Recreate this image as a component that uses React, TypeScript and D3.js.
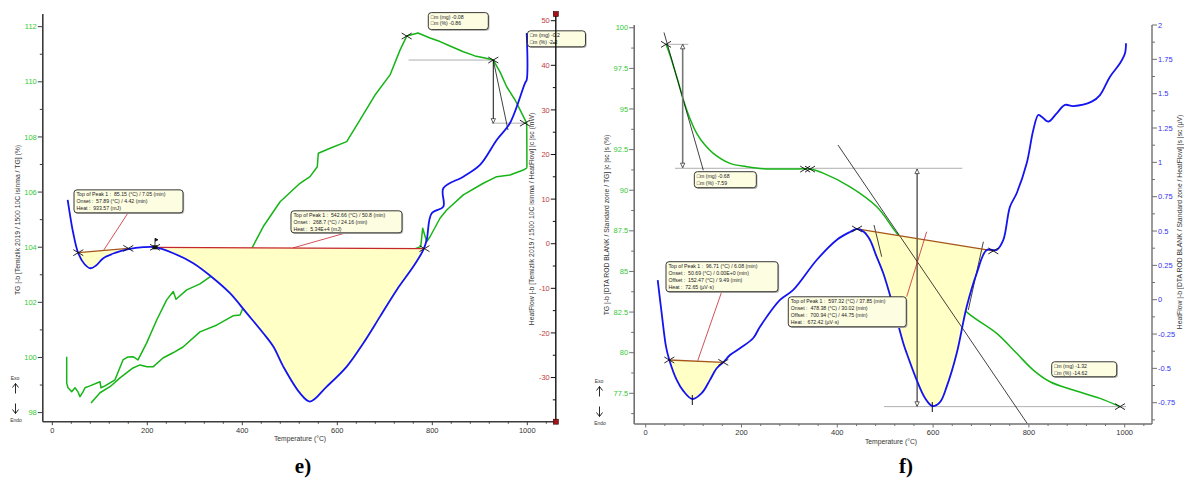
import React, { useEffect, useRef } from 'react';
import * as d3 from 'd3';

type Pt = [number, number];

// temperature axis
const tempTicks = [0, 200, 400, 600, 800, 1000];

// ---------- panel e) Temizlik 2019 ----------
const eTgTicks = [98, 100, 102, 104, 106, 108, 110, 112];
const eHfTicks = [-30, -20, -10, 0, 10, 20, 30, 40, 50];

// TG (%) heating branch
const eTgHeating: Pt[] = [
  [30.3, 100.03], [30.3, 99.07], [33.1, 98.9], [40.8, 98.76], [47.8, 98.9], [54.1, 98.75],
  [58.3, 98.58], [64.6, 98.75], [68.8, 98.9], [79.4, 98.97], [100.4, 99.12], [102.5, 98.9],
  [110.9, 98.97], [132, 99.19], [148.8, 99.91], [159.4, 100.02], [169.9, 100.03], [180.4, 99.91],
  [198.7, 100.53], [219.8, 101.36], [240.8, 102.09], [254.7, 102.39], [260.4, 102.11], [283, 102.45],
  [310.9, 102.67], [332, 102.92], [374.1, 103.43], [420.4, 103.97], [444.2, 104.75], [479.6, 105.65],
  [521.5, 106.32], [542.5, 106.56], [557.9, 106.92], [560, 107.41], [584.8, 107.59], [619.8, 107.83],
  [647.8, 108.62], [679.4, 109.52], [711, 110.25], [732, 111.15], [746.1, 111.66], [769.9, 111.77],
  [795.2, 111.59], [816.2, 111.46], [837.3, 111.3], [865.3, 111.09], [889.9, 110.94], [911, 110.86],
  [928.4, 110.79], [942.5, 110.36], [956.6, 109.82], [974.3, 109.34], [984.8, 108.98], [998.7, 108.5],
  [999, 107.89], [999.2, 106.88]
];
// TG (%) cooling branch
const eTgCooling: Pt[] = [
  [999.2, 106.88], [991.6, 106.8], [963.6, 106.62], [935.6, 106.56], [907.4, 106.32], [865.3, 105.9],
  [830.3, 105.35], [816.2, 105.05], [795.2, 104.38], [788.2, 104.2], [779.8, 104.69], [775.6, 104.02],
  [689.9, 103.47], [605.7, 102.96], [521.5, 102.45], [458.3, 102.09], [401.5, 101.8], [395.2, 101.54],
  [380.4, 101.51], [346.7, 101.18], [310.9, 100.93], [275.2, 100.38], [254.1, 100.17], [233.1, 99.98],
  [212, 99.66], [199.4, 99.66], [184.6, 99.73], [169.9, 99.62], [142.5, 99.26], [121.5, 98.94],
  [100.4, 98.72], [81.5, 98.35]
];
// HeatFlow (mW)
const eHeatFlow: Pt[] = [
  [32.4, 9.82], [37.3, 6.45], [43.6, 2.64], [54.7, -2.13], [68, -4.6], [80, -5.5], [92, -4.9],
  [107.4, -3.25], [132, -2.06], [160, -1.23], [191.6, -0.78], [216.2, -0.78], [254.7, -2.13],
  [296.8, -4.37], [338.9, -7.73], [374.1, -11.09], [409.3, -15.57], [444.2, -20.06], [465.3, -23.06],
  [486.3, -27.54], [521.5, -33.51], [542.5, -35.39], [577.7, -32.02], [619.8, -27.54], [654.7, -22.3],
  [689.9, -16.34], [725.1, -10.35], [760, -5.13], [781.1, -1.39], [788.2, 0.85], [798.7, 6.83],
  [823.2, 8.31], [823.2, 12.44], [865.3, 15.04], [900.4, 17.66], [935.6, 23.26], [963.6, 27.07],
  [995.2, 36.03], [998.7, 36.71], [998.7, 47.24]
];
const ePeak1Base: Pt[] = [[54.7, -2.0], [160, -1.05]];
const ePeak2Base: Pt[] = [[216.2, -0.8], [783.5, -1.1]];

// ---------- panel f) DTA ROD BLANK ----------
const fTgTicks = [77.5, 80, 82.5, 85, 87.5, 90, 92.5, 95, 97.5, 100];
const fHfTicks = [-0.75, -0.5, -0.25, 0, 0.25, 0.5, 0.75, 1, 1.25, 1.5, 1.75, 2];

const fTg: Pt[] = [
  [42.4, 98.98], [50.7, 98.32], [64.7, 96.98], [85.6, 94.94], [106.5, 93.5], [123.8, 92.78],
  [141.1, 92.27], [176, 91.65], [210.9, 91.45], [245.5, 91.32], [301.3, 91.3], [343, 91.3],
  [371.7, 91.04], [426.7, 90.21], [482.5, 88.98], [524.2, 87.35], [572.9, 85.7], [625.1, 83.86],
  [673.5, 82.42], [732.8, 81.19], [774.5, 79.96], [809.2, 78.93], [844.1, 78.21], [892.7, 77.7],
  [948.4, 77.19], [990.2, 76.68]
];
// HeatFlow (µV)
const fHeatFlow: Pt[] = [
  [25.1, 0.143], [33.4, -0.099], [42.4, -0.342], [49.3, -0.439], [64.7, -0.584], [78.5, -0.664],
  [97.3, -0.723], [116.9, -0.681], [134.2, -0.584], [148.2, -0.499], [162, -0.456], [176, -0.403],
  [196.9, -0.354], [224.6, -0.279], [238.6, -0.197], [280.4, -0.002], [308.1, 0.071], [357, 0.289],
  [398.7, 0.435], [426.5, 0.493], [441.1, 0.515], [455.8, 0.493], [468.3, 0.435], [480.8, 0.325],
  [496, 0.192], [516.9, -0.051], [537.8, -0.317], [544.9, -0.39], [565.8, -0.585], [583.1, -0.716],
  [598.3, -0.774], [614.4, -0.745], [628.4, -0.633], [649.3, -0.39], [670.1, -0.051], [691, 0.192],
  [711.9, 0.362], [732.8, 0.362], [746.6, 0.435], [760.5, 0.677], [774.5, 0.775], [795.4, 0.993],
  [809.2, 1.236], [819.6, 1.345], [826.7, 1.332], [840.5, 1.296], [858, 1.357], [875.4, 1.418],
  [892.7, 1.41], [931.1, 1.442], [948.4, 1.49], [969.3, 1.624], [990.2, 1.721], [1000.6, 1.794],
  [1002.7, 1.867]
];
const fPeak1Base: Pt[] = [[49.3, -0.439], [162, -0.456]];
const fPeak2Base: Pt[] = [[441.1, 0.515], [725.7, 0.355]];

const FONT = '"Liberation Sans", Arial, Helvetica, sans-serif';
const GREEN = '#16b416';
const BLUE = '#1414f0';
const FILL = '#ffffc6';
const RED = '#c4262e';
const BROWN = '#a5561c';

function interpAt(pts: Pt[], t: number) {
  for (let i = 0; i < pts.length - 1; i++) {
    const [t0, v0] = pts[i];
    const [t1, v1] = pts[i + 1];
    if (t >= t0 && t <= t1 && t1 !== t0) return v0 + ((v1 - v0) * (t - t0)) / (t1 - t0);
  }
  return pts[pts.length - 1][1];
}

// curve points between the two baseline ends, from right to left
function peakEdge(curve: Pt[], base: Pt[]): Pt[] {
  const [[a], [b]] = base;
  const inner = curve.filter(d => d[0] > a && d[0] < b).reverse();
  return [[b, interpAt(curve, b)], ...inner, [a, interpAt(curve, a)]];
}

const panelE = {
  xDomain: [-20, 1060], xRange: [42.8, 555.8], yTop: 14, yBottom: 421.7,
  tgDomain: [97.67, 112.46], hfDomain: [-39.9, 51.5],
  tgTicks: eTgTicks, tgMinor: 1, hfTicks: eHfTicks, hfMinor: 5,
  hfColor: '#c33a3a', hfInside: true, axisColor: '#3c3c3c', rightColor: '#111', redEnds: true,
  tgTitle: 'TG |-b [Temizlik 2019 / 1500 10C isinma / TG] (%)', tgTitleX: 18, tgTitleY: 220,
  hfTitle: 'HeatFlow |-b [Temizlik 2019 / 1500 10C isinma / HeatFlow] |c |sc (mW)', hfTitleX: 532, hfTitleY: 219,
  xTitleX: 300, exoX: 15, exoY: 379.5, smoothTg: false,
  tgCurves: [eTgHeating, eTgCooling], hfCurve: eHeatFlow,
  peaks: [{ base: ePeak1Base, color: BROWN }, { base: ePeak2Base, color: RED }],
  greyLines: [[[750, 110.79], [928.4, 110.79]], [[925, 108.5], [999, 108.5]]] as Pt[][],
  tgTangents: [[[928.4, 110.79], [959.4, 108.25]]] as Pt[][],
  hfTangents: [] as Pt[][],
  arrows: [{ t: 928.4, from: 110.79, to: 108.5, color: '#111', top: false }],
  tgMarks: [[746.1, 111.66], [928.4, 110.79], [995, 108.5]] as Pt[],
  hfMarks: [[54.7, -2.0], [160, -1.05], [216.2, -0.8], [783.5, -1.1]] as Pt[],
  peakTicks: [] as Pt[],
  flag: [216.2, -0.8] as Pt,
  leaders: [[[159.4, 6.9], [108.6, -1.39]], [[616.2, 2.37], [506.7, -0.94]]] as Pt[][],
  boxes: [
    { t: 45.7, v: 106.08, w: 109, h: 23, lines: ['Top of Peak 1 :  85.15 (°C) / 7.05 (min)', 'Onset :  57.89 (°C) / 4.42 (min)', 'Heat :  933.57 (mJ)'] },
    { t: 502.5, v: 105.32, w: 111, h: 22, lines: ['Top of Peak 1 :  542.66 (°C) / 50.8 (min)', 'Onset :  268.7 (°C) / 24.16 (min)', 'Heat :  5.34E+4 (mJ)'] },
    { t: 791.6, v: 112.51, w: 60, h: 17, lines: ['\u25A1m (mg) -0.08', '\u25A1m (%) -0.86'] },
    { t: 1000.4, v: 111.85, w: 58, h: 16, lines: ['\u25A1m (mg) -0.2', '\u25A1m (%) -2.3'] }
  ]
};

const panelF = {
  xDomain: [-24, 1057], xRange: [634.2, 1152], yTop: 25, yBottom: 424,
  tgDomain: [75.61, 100.17], hfDomain: [-0.905, 2.0],
  tgTicks: fTgTicks, tgMinor: 1.25, hfTicks: fHfTicks, hfMinor: 0.125,
  hfColor: '#3434f4', hfInside: false, axisColor: '#707070', rightColor: '#707070', redEnds: false,
  tgTitle: 'TG |-b [DTA ROD BLANK / Standard zone / TG] |c |sc |s (%)', tgTitleX: 607, tgTitleY: 225,
  hfTitle: 'HeatFlow |-b [DTA ROD BLANK / Standard zone / HeatFlow] |s |sc (µV)', hfTitleX: 1180, hfTitleY: 222,
  xTitleX: 891, exoX: 599, exoY: 382.5, smoothTg: true,
  tgCurves: [fTg], hfCurve: fHeatFlow,
  peaks: [{ base: fPeak1Base, color: BROWN }, { base: fPeak2Base, color: BROWN }],
  greyLines: [[[46.6, 98.98], [88.9, 98.98]], [[61.2, 91.35], [661, 91.35]], [[497.3, 76.68], [1002.7, 76.68]]] as Pt[][],
  tgTangents: [[[38.2, 99.71], [120.3, 91.23]], [[401.5, 92.78], [797, 75.62]]] as Pt[][],
  hfTangents: [[[476.6, 0.544], [492.7, 0.313]], [[705, 0.422], [673.5, -0.075]]] as Pt[][],
  arrows: [
    { t: 77.2, from: 98.98, to: 91.39, color: '#777', top: true },
    { t: 566.6, from: 91.3, to: 76.7, color: '#111', top: true }
  ],
  tgMarks: [[42.4, 98.98], [333, 91.3], [343, 91.3], [990.2, 76.68]] as Pt[],
  hfMarks: [[49.3, -0.439], [162, -0.456], [441.1, 0.515], [725.7, 0.355]] as Pt[],
  peakTicks: [[97.3, -0.723], [598.3, -0.774]] as Pt[],
  flag: null,
  leaders: [[[158.7, 0.058], [108.6, -0.444]], [[544.9, 0.022], [586.6, 0.495]]] as Pt[][],
  boxes: [
    { t: 42.4, v: 85.6, w: 112, h: 30, lines: ['Top of Peak 1 :  96.71 (°C) / 6.08 (min)', 'Onset :  50.69 (°C) / 0.00E+0 (min)', 'Offset :  152.47 (°C) / 9.49 (min)', 'Heat :  72.65 (µV·s)'] },
    { t: 297.7, v: 83.44, w: 118, h: 30, lines: ['Top of Peak 1 :  597.32 (°C) / 37.85 (min)', 'Onset :  478.38 (°C) / 30.02 (min)', 'Offset :  700.94 (°C) / 44.75 (min)', 'Heat :  672.42 (µV·s)'] },
    { t: 101.5, v: 91.14, w: 62, h: 16, lines: ['\u25A1m (mg) -0.68', '\u25A1m (%) -7.59'] },
    { t: 847.6, v: 79.44, w: 65, h: 15, lines: ['\u25A1m (mg) -1.32', '\u25A1m (%) -14.62'] }
  ]
};

function minorTicks(domain: number[], step: number, majors: number[]) {
  const start = Math.ceil(domain[0] / step) * step;
  return d3.range(start, domain[1] + 1e-9, step).filter(v => !majors.some(m => Math.abs(m - v) < 1e-6));
}

function drawPanel(svg: any, p: any) {
  const g = svg.append('g');
  const x = d3.scaleLinear().domain(p.xDomain).range(p.xRange);
  const tg = d3.scaleLinear().domain(p.tgDomain).range([p.yBottom, p.yTop]);
  const hf = d3.scaleLinear().domain(p.hfDomain).range([p.yBottom, p.yTop]);
  const xl = p.xRange[0];
  const xr = p.xRange[1];
  const tgLine = d3.line<Pt>().x(d => x(d[0])).y(d => tg(d[1]));
  const hfLine = d3.line<Pt>().x(d => x(d[0])).y(d => hf(d[1]));
  const smooth = d3.curveCatmullRom.alpha(0.5);
  const tgCurve = d3.line<Pt>().x(d => x(d[0])).y(d => tg(d[1])).curve(p.smoothTg ? smooth : d3.curveLinear);
  const hfCurve = d3.line<Pt>().x(d => x(d[0])).y(d => hf(d[1])).curve(smooth);

  // guide lines
  p.greyLines.forEach((l: Pt[]) =>
    g.append('path').attr('d', tgLine(l)).attr('stroke', '#9a9a9a').attr('stroke-width', 0.8).attr('fill', 'none'));

  // TG curves
  p.tgCurves.forEach((c: Pt[]) =>
    g.append('path').attr('d', tgCurve(c)).attr('fill', 'none').attr('stroke', GREEN)
      .attr('stroke-width', 1.5).attr('stroke-linejoin', 'round'));

  // peak integration areas (painted over the TG curve like the instrument software)
  p.peaks.forEach((pk: any) => {
    const edge = hfCurve(peakEdge(p.hfCurve, pk.base)) as string;
    const d = hfLine(pk.base) + 'L' + edge.slice(1) + 'Z';
    g.append('path').attr('d', d).attr('fill', FILL).attr('stroke', 'none');
  });

  // tangents
  p.tgTangents.forEach((l: Pt[]) =>
    g.append('path').attr('d', tgLine(l)).attr('stroke', '#111').attr('stroke-width', 0.8).attr('fill', 'none'));
  p.hfTangents.forEach((l: Pt[]) =>
    g.append('path').attr('d', hfLine(l)).attr('stroke', '#111').attr('stroke-width', 0.8).attr('fill', 'none'));

  // arrows
  p.arrows.forEach((a: any) => {
    const ax = x(a.t);
    const y1 = tg(a.from);
    const y2 = tg(a.to);
    g.append('line').attr('x1', ax).attr('x2', ax).attr('y1', y1).attr('y2', y2)
      .attr('stroke', a.color).attr('stroke-width', a.color === '#777' ? 1.6 : 1);
    g.append('path').attr('d', `M${ax - 2.2},${y2 - 4.5}L${ax + 2.2},${y2 - 4.5}L${ax},${y2}Z`)
      .attr('fill', '#fff').attr('stroke', '#222').attr('stroke-width', 0.7);
    if (a.top) {
      g.append('path').attr('d', `M${ax - 2.2},${y1 + 4.5}L${ax + 2.2},${y1 + 4.5}L${ax},${y1}Z`)
        .attr('fill', '#fff').attr('stroke', '#222').attr('stroke-width', 0.7);
    }
  });

  // baselines
  p.peaks.forEach((pk: any) =>
    g.append('path').attr('d', hfLine(pk.base)).attr('stroke', pk.color).attr('stroke-width', 1.3).attr('fill', 'none'));

  // leaders
  p.leaders.forEach((l: Pt[]) =>
    g.append('path').attr('d', hfLine(l)).attr('stroke', RED).attr('stroke-width', 0.8).attr('fill', 'none'));

  // heat flow curve
  g.append('path').attr('d', hfCurve(p.hfCurve)).attr('fill', 'none').attr('stroke', BLUE)
    .attr('stroke-width', 1.8).attr('stroke-linejoin', 'round');

  // markers
  const cross = (cx: number, cy: number) =>
    g.append('path').attr('d', `M${cx - 5},${cy - 3}L${cx + 5},${cy + 3}M${cx - 5},${cy + 3}L${cx + 5},${cy - 3}`)
      .attr('stroke', '#111').attr('stroke-width', 0.9);
  p.tgMarks.forEach((d: Pt) => cross(x(d[0]), tg(d[1])));
  p.hfMarks.forEach((d: Pt) => cross(x(d[0]), hf(d[1])));
  p.peakTicks.forEach((d: Pt) =>
    g.append('line').attr('x1', x(d[0])).attr('x2', x(d[0])).attr('y1', hf(d[1]) - 4).attr('y2', hf(d[1]) + 6)
      .attr('stroke', '#111').attr('stroke-width', 1));
  if (p.flag) {
    const fx = x(p.flag[0]);
    const fy = hf(p.flag[1]);
    g.append('rect').attr('x', fx - 2.5).attr('y', fy - 2).attr('width', 5).attr('height', 4).attr('fill', '#111');
    g.append('path').attr('d', `M${fx},${fy}L${fx},${fy - 9}M${fx},${fy - 9}L${fx + 3},${fy - 7.5}L${fx},${fy - 6}`)
      .attr('stroke', '#111').attr('stroke-width', 0.8).attr('fill', '#111');
  }

  // annotation boxes
  p.boxes.forEach((b: any) => {
    const bx = x(b.t);
    const by = tg(b.v);
    g.append('rect').attr('x', bx + 1.2).attr('y', by + 1.2).attr('width', b.w).attr('height', b.h)
      .attr('rx', 3).attr('fill', '#b8b8b8');
    g.append('rect').attr('x', bx).attr('y', by).attr('width', b.w).attr('height', b.h)
      .attr('rx', 3).attr('fill', '#fdfde2').attr('stroke', '#222').attr('stroke-width', 0.9);
    const step = b.lines.length === 2 ? 6.6 : 7.1;
    b.lines.forEach((s: string, i: number) =>
      g.append('text').attr('x', bx + 2.5).attr('y', by + 6.2 + i * step).text(s)
        .attr('font-family', FONT).attr('font-size', 5.2).attr('fill', '#222').style('white-space', 'pre'));
  });

  // axes
  const ac = p.axisColor;
  g.append('line').attr('x1', xl).attr('x2', xl).attr('y1', p.yTop).attr('y2', p.yBottom).attr('stroke', ac).attr('stroke-width', 1.6);
  g.append('line').attr('x1', xl).attr('x2', xr).attr('y1', p.yBottom).attr('y2', p.yBottom).attr('stroke', ac).attr('stroke-width', 1.6);
  g.append('line').attr('x1', xr).attr('x2', xr).attr('y1', p.yTop).attr('y2', p.yBottom).attr('stroke', p.rightColor).attr('stroke-width', 1.4);

  const tickText = (sel: any) => sel.attr('font-family', FONT).attr('font-size', 7.5);

  // temperature ticks
  tempTicks.forEach(t => {
    g.append('line').attr('x1', x(t)).attr('x2', x(t)).attr('y1', p.yBottom).attr('y2', p.yBottom + 3.5).attr('stroke', ac);
    tickText(g.append('text').attr('x', x(t)).attr('y', p.yBottom + 11).attr('text-anchor', 'middle').attr('fill', '#333').text(String(t)));
  });
  minorTicks(p.xDomain, 40, tempTicks).forEach(t =>
    g.append('line').attr('x1', x(t)).attr('x2', x(t)).attr('y1', p.yBottom).attr('y2', p.yBottom + 2).attr('stroke', ac));

  // TG ticks
  p.tgTicks.forEach((v: number) => {
    g.append('line').attr('x1', xl - 5).attr('x2', xl).attr('y1', tg(v)).attr('y2', tg(v)).attr('stroke', ac);
    tickText(g.append('text').attr('x', xl - 6).attr('y', tg(v) + 2.6).attr('text-anchor', 'end').attr('fill', '#35c935').text(String(v)));
  });
  minorTicks(p.tgDomain, p.tgMinor, p.tgTicks).forEach((v: number) =>
    g.append('line').attr('x1', xl - 3).attr('x2', xl).attr('y1', tg(v)).attr('y2', tg(v)).attr('stroke', ac));

  // heat flow ticks
  const dir = p.hfInside ? -1 : 1;
  p.hfTicks.forEach((v: number) => {
    g.append('line').attr('x1', xr).attr('x2', xr + dir * 5).attr('y1', hf(v)).attr('y2', hf(v)).attr('stroke', p.rightColor);
    tickText(g.append('text').attr('x', xr + dir * 6).attr('y', hf(v) + 2.6)
      .attr('text-anchor', p.hfInside ? 'end' : 'start').attr('fill', p.hfColor).text(String(v)));
  });
  minorTicks(p.hfDomain, p.hfMinor, p.hfTicks).forEach((v: number) =>
    g.append('line').attr('x1', xr).attr('x2', xr + dir * 3).attr('y1', hf(v)).attr('y2', hf(v)).attr('stroke', p.rightColor));

  if (p.redEnds) {
    [p.yTop, p.yBottom].forEach(yy =>
      g.append('rect').attr('x', xr - 2.5).attr('y', yy - 2.5).attr('width', 5).attr('height', 5)
        .attr('fill', '#a3141a').attr('stroke', '#300').attr('stroke-width', 0.6));
  }

  // titles
  const title = (sel: any) => sel.attr('font-family', FONT).attr('font-size', 6.8).attr('fill', '#333').attr('text-anchor', 'middle');
  title(g.append('text').attr('x', p.xTitleX).attr('y', p.yBottom + 19.5).text('Temperature (°C)'));
  title(g.append('text').attr('transform', `translate(${p.tgTitleX + 2.4},${p.tgTitleY}) rotate(-90)`).text(p.tgTitle));
  title(g.append('text').attr('transform', `translate(${p.hfTitleX + 2.4},${p.hfTitleY}) rotate(-90)`).text(p.hfTitle));

  // exo / endo
  const ex = p.exoX;
  const ey = p.exoY;
  const small = (sel: any) => sel.attr('font-family', FONT).attr('font-size', 5).attr('fill', '#333').attr('text-anchor', 'middle');
  small(g.append('text').attr('x', ex).attr('y', ey).text('Exo'));
  small(g.append('text').attr('x', ex + 1).attr('y', ey + 42).text('Endo'));
  g.append('path').attr('d', `M${ex + 0.5},${ey + 14}L${ex + 0.5},${ey + 4}M${ex - 2.5},${ey + 8}L${ex + 0.5},${ey + 4}L${ex + 3.5},${ey + 8}`)
    .attr('stroke', '#111').attr('stroke-width', 0.9).attr('fill', 'none');
  g.append('path').attr('d', `M${ex + 0.5},${ey + 24}L${ex + 0.5},${ey + 34}M${ex - 2.5},${ey + 30}L${ex + 0.5},${ey + 34}L${ex + 3.5},${ey + 30}`)
    .attr('stroke', '#111').attr('stroke-width', 0.9).attr('fill', 'none');
}

export default function App() {
  const ref = useRef<SVGSVGElement>(null);

  useEffect(() => {
    const svg = d3.select(ref.current);
    svg.selectAll('*').remove();
    drawPanel(svg, panelE);
    drawPanel(svg, panelF);
    [{ x: 303, s: 'e)' }, { x: 906, s: 'f)' }].forEach(l =>
      svg.append('text').attr('x', l.x).attr('y', 473).attr('text-anchor', 'middle')
        .attr('font-family', '"Liberation Serif", "Times New Roman", serif').attr('font-weight', 'bold')
        .attr('font-size', 21).attr('fill', '#000').text(l.s));
  }, []);

  return (
    <svg
      ref={ref}
      width={1184}
      height={481}
      style={{ position: 'absolute', left: 0, top: 0, background: '#fff' }}
    />
  );
}
